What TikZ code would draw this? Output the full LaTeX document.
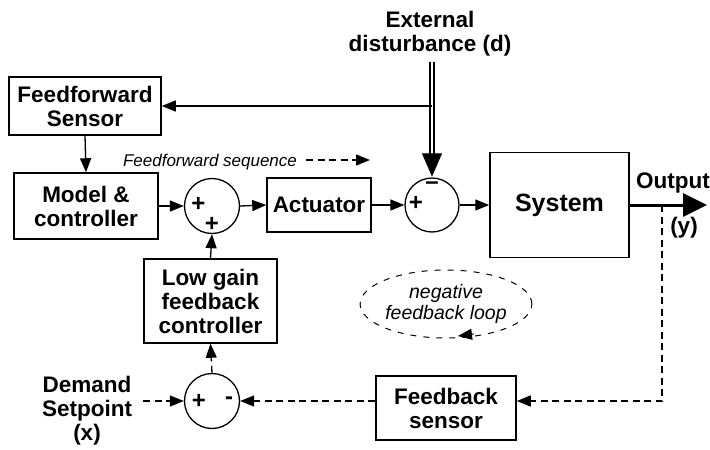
\documentclass[tikz,border=0pt]{standalone}
\usepackage{fontspec}
\setmainfont{Liberation Sans}
\usetikzlibrary{arrows.meta,shapes.geometric,calc}
\newcommand\lbl{\fontsize{22.5}{24}\selectfont\bfseries}
\newcommand\itl{\fontsize{17}{20}\selectfont\itshape}
\newcommand\itlb{\fontsize{19.5}{21}\selectfont\itshape}
\newcommand\sgnfont{\fontsize{24}{24}\selectfont\bfseries}
\begin{document}
\begin{tikzpicture}[x=1pt,y=-1pt,
  box/.style={draw,line width=1.5pt,align=center,font=\lbl,inner sep=0pt},
  sumc/.style={circle,draw,line width=1.3pt,minimum size=55pt,inner sep=0pt},
  sgn/.style={font=\sgnfont,inner sep=0pt},
  arr/.style={line width=1.3pt,-{Triangle[length=14pt,width=11pt]}},
  darr/.style={arr,dash pattern=on 7pt off 4.5pt},
  lab/.style={font=\lbl,align=center,inner sep=0pt}]
\useasboundingbox (0,0) rectangle (710,450);

% blocks
\node[box,minimum width=152pt,minimum height=58pt] (ffs) at (85,106) {Feedforward\\Sensor};
\node[box,minimum width=144pt,minimum height=66pt] (mc) at (86,206) {Model \&\\controller};
\node[box,minimum width=104pt,minimum height=54pt] (act) at (319,205) {Actuator};
\node[box,minimum width=139pt,minimum height=105pt,font=\fontsize{25}{27}\selectfont\bfseries] (sys) at (559.5,205) {System};
\node[box,minimum width=133pt,minimum height=84pt] (lg) at (210.5,301) {Low gain\\feedback\\controller};
\node[box,minimum width=140pt,minimum height=64pt] (fbs) at (446,408) {Feedback\\sensor};

% summing junctions
\node[sumc] (s1) at (212,206) {};
\node[sgn] at (198.5,204) {+};
\node[sgn] at (212,224) {+};
\node[sumc,minimum size=54pt] (s2) at (432,205) {};
\node[sgn] at (416,203) {+};
\node[sgn] at (432,186) {\textendash};
\node[sumc] (s3) at (212,401) {};
\node[sgn] at (199,401) {+};
\node[sgn] at (229,401) {-};

% labels
\node[lab] (dist) at (430,34) {External\\disturbance (d)};
\node[lab] (dem) at (87,411) {Demand\\Setpoint\\(x)};
\node[lab,anchor=west] (outl) at (636,183) {Output};
\node[lab] (yl) at (684,228) {(y)};
\node[font=\itl,inner sep=0pt] (ffseq) at (210,162) {Feedforward sequence};
\node[ellipse,draw,line width=1pt,dash pattern=on 6pt off 7pt,minimum width=168pt,minimum height=68pt,
      align=center,font=\itlb,inner sep=0pt] (nfl) at (446,304) {negative\\feedback loop};

% free ends
\coordinate (dtop) at (432,62);
\coordinate (yend) at (707,205);
\coordinate (ytap) at (662,205);
\coordinate (dsrc) at (143,401);
\coordinate (fa) at (306,160);
\coordinate (fb) at (370,160);
\coordinate (la) at (474,334);
\coordinate (lb) at (458,336);

% forward path
\draw[arr] (ffs.south) -- (mc.north);
\draw[arr] (mc.east |- s1.west) -- (s1.west);
\draw[arr] (s1.east) -- (act.west);
\draw[arr] (act.east) -- (s2.west);
\draw[arr] (s2.east) -- (sys.west);
\draw[arr] (lg.north) -- (s1.south);
\draw[line width=3pt,-{Triangle[length=24pt,width=23pt]}] (sys.east) -- (yend);

% disturbance
\draw[line width=1.8pt,double,double distance=2.4pt] (dtop) -- ($(s2.north)+(0,-22)$);
\draw[line width=0.1pt,fill=black] ($(s2.north)+(-10,-24)$) -- ($(s2.north)+(10,-24)$) -- ($(s2.north)+(0,-1)$) -- cycle;
\draw[arr] (s2.north |- ffs.east) -- (ffs.east);

% feedback path
\draw[darr] (ytap) |- (fbs.east |- s3.center);
\draw[darr] (fbs.west |- s3.center) -- (s3.east);
\draw[darr] (dsrc) -- (s3.west);
\draw[darr] (s3.north) -- (lg.south);
\draw[darr] (fa) -- (fb);
\draw[line width=1pt,-{Triangle[length=14pt,width=11pt]}] (la) -- (lb);
\end{tikzpicture}
\end{document}
